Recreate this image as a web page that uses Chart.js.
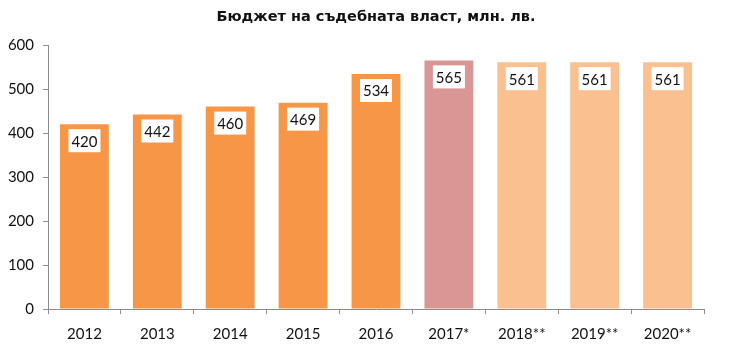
<!DOCTYPE html>
<html>
<head>
<meta charset="utf-8">
<script src="https://cdn.jsdelivr.net/npm/chart.js@4"></script>
<style>
  html, body { margin: 0; padding: 0; background: #fff; }
  #wrap { width: 730px; height: 364px; }
</style>
</head>
<body>
<div id="wrap"><canvas id="budgetChart" width="730" height="364"></canvas></div>
<script>
// data
const years = ['2012', '2013', '2014', '2015', '2016', '2017*', '2018**', '2019**', '2020**'];
const budget = [420, 442, 460, 469, 534, 565, 561, 561, 561];
const barColors = ['#F79646', '#F79646', '#F79646', '#F79646', '#F79646', '#D99694', '#FAC090', '#FAC090', '#FAC090'];
const yTicks = [0, 100, 200, 300, 400, 500, 600];
const chartTitle = 'Бюджет на съдебната власт, млн. лв.';

const labelFont = '15px Lato, "Open Sans", sans-serif';

// white boxes with the value, just below the top of each bar
const valueBoxes = {
    id: 'valueBoxes',
    afterDatasetsDraw(chart) {
        const ctx = chart.ctx;
        const meta = chart.getDatasetMeta(0);
        ctx.save();
        ctx.font = labelFont;
        ctx.textAlign = 'center';
        ctx.textBaseline = 'middle';
        meta.data.forEach((bar, i) => {
            const w = 32, h = 23;
            const top = bar.y + 5;
            ctx.fillStyle = '#fff';
            ctx.fillRect(bar.x - w / 2, top, w, h);
            ctx.fillStyle = '#111';
            ctx.fillText(String(budget[i]), bar.x, top + h / 2 + 1);
        });
        ctx.restore();
    }
};

// title sits over the whole picture, not just the plot area
const topTitle = {
    id: 'topTitle',
    afterDraw(chart) {
        const ctx = chart.ctx;
        ctx.save();
        ctx.font = 'bold 14.5px "DejaVu Sans", sans-serif';
        ctx.fillStyle = '#111';
        ctx.textAlign = 'center';
        ctx.textBaseline = 'middle';
        ctx.fillText(chartTitle, 376, 17);
        ctx.restore();
    }
};

const ctx = document.getElementById('budgetChart').getContext('2d');
new Chart(ctx, {
    type: 'bar',
    data: {
        labels: years,
        datasets: [{
            data: budget,
            backgroundColor: barColors,
            borderWidth: 0,
            barPercentage: 0.67,
            categoryPercentage: 1
        }]
    },
    options: {
        responsive: false,
        animation: false,
        layout: { padding: { left: 0, right: 26, top: 45, bottom: 0 } },
        plugins: {
            legend: { display: false },
            tooltip: { enabled: false },
            title: { display: false }
        },
        scales: {
            x: {
                grid: { drawOnChartArea: false, tickLength: 5, color: '#8c8c8c', offset: true },
                border: { color: '#8c8c8c' },
                ticks: { color: '#111', font: { family: 'Lato', size: 15 }, padding: 11 },
                afterFit: scale => { scale.height = 55; }
            },
            y: {
                min: 0,
                max: 600,
                afterBuildTicks: scale => { scale.ticks = yTicks.map(v => ({ value: v })); },
                grid: { drawOnChartArea: false, tickLength: 5, color: '#8c8c8c' },
                border: { color: '#8c8c8c' },
                ticks: { color: '#111', font: { family: 'Lato', size: 15 }, padding: 9 },
                afterFit: scale => { scale.width = 48; }
            }
        }
    },
    plugins: [valueBoxes, topTitle]
});
</script>
</body>
</html>
